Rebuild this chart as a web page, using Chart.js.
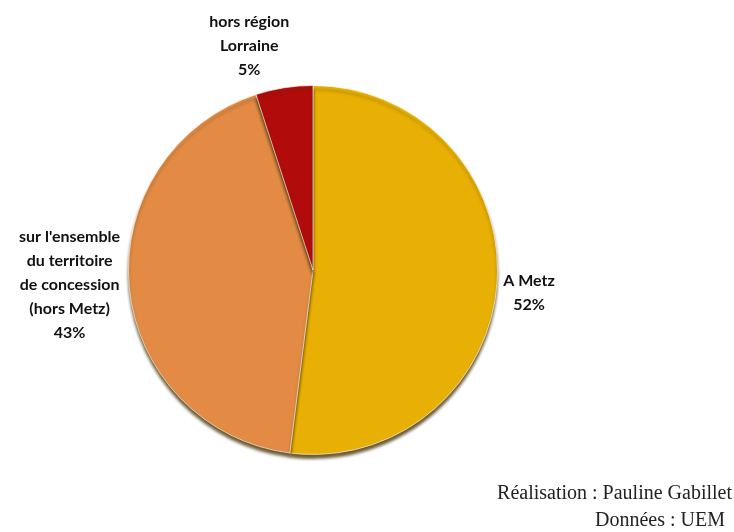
<!DOCTYPE html>
<html>
<head>
<meta charset="utf-8">
<script src="https://cdn.jsdelivr.net/npm/chart.js@4.4.1/dist/chart.umd.min.js"></script>
<style>
  html, body { margin: 0; padding: 0; background: #fff; }
  #wrap { width: 734px; height: 532px; position: relative; }
</style>
</head>
<body>
<div id="wrap"><canvas id="myChart" width="734" height="532"></canvas></div>
<script>
// data
var categories = ['A Metz', "sur l'ensemble du territoire de concession (hors Metz)", 'hors région Lorraine'];
var labelLines = [
    ['A Metz'],
    ["sur l'ensemble", 'du territoire', 'de concession', '(hors Metz)'],
    ['hors région', 'Lorraine']
];
var values = [52, 43, 5];
var colors = ['#E8B004', '#E38B45', '#B20B0B'];
var credits = ['Réalisation : Pauline Gabillet', 'Données : UEM'];

// extra distance of each label from the pie edge, plus small nudges
var labelOffset = [32, 60, 44];
var labelNudgeX = [0, 0, -28];
var labelNudgeY = [9, -8, 2];

var shadowPlugin = {
    id: 'shadow',
    beforeDatasetDraw: function (chart) {
        var c = chart.ctx;
        c.save();
        c.shadowColor = 'rgba(70,50,0,0.8)';
        c.shadowBlur = 3;
        c.shadowOffsetY = 4;
    },
    afterDatasetDraw: function (chart) {
        chart.ctx.restore();
    }
};

var labelsPlugin = {
    id: 'sliceLabels',
    afterDraw: function (chart) {
        var c = chart.ctx;
        var arcs = chart.getDatasetMeta(0).data;
        c.save();
        c.fillStyle = '#111';
        c.textAlign = 'center';
        c.textBaseline = 'middle';
        arcs.forEach(function (arc, i) {
            var mid = (arc.startAngle + arc.endAngle) / 2;
            var d = arc.outerRadius + labelOffset[i];
            var lines = labelLines[i].concat([values[i] + '%']);
            var x = arc.x + Math.cos(mid) * d + labelNudgeX[i];
            var y = arc.y + Math.sin(mid) * d + labelNudgeY[i];
            var lh = 24;
            var top = y - (lines.length - 1) * lh / 2;
            c.font = 'bold 16px Lato, "Open Sans", sans-serif';
            lines.forEach(function (t, k) {
                c.fillText(t, x, top + k * lh);
            });
        });
        // credits, bottom right
        c.font = '20px "Liberation Serif", "DejaVu Serif", serif';
        c.textAlign = 'right';
        c.fillStyle = '#222';
        c.fillText(credits[0], 732, 494);
        c.fillText(credits[1], 725, 521);
        c.restore();
    }
};

const ctx = document.getElementById('myChart');
var xx = new Chart(ctx, {
    type: 'pie',
    data: {
        labels: categories,
        datasets: [{
            data: values,
            backgroundColor: colors,
            borderColor: 'rgba(255,255,255,0.6)',
            borderWidth: 1
        }]
    },
    options: {
        responsive: false,
        animation: false,
        layout: { padding: { left: 128, right: 236, top: 85, bottom: 77 } },
        plugins: {
            legend: { display: false },
            tooltip: { enabled: false }
        }
    },
    plugins: [shadowPlugin, labelsPlugin]
});
</script>
</body>
</html>
